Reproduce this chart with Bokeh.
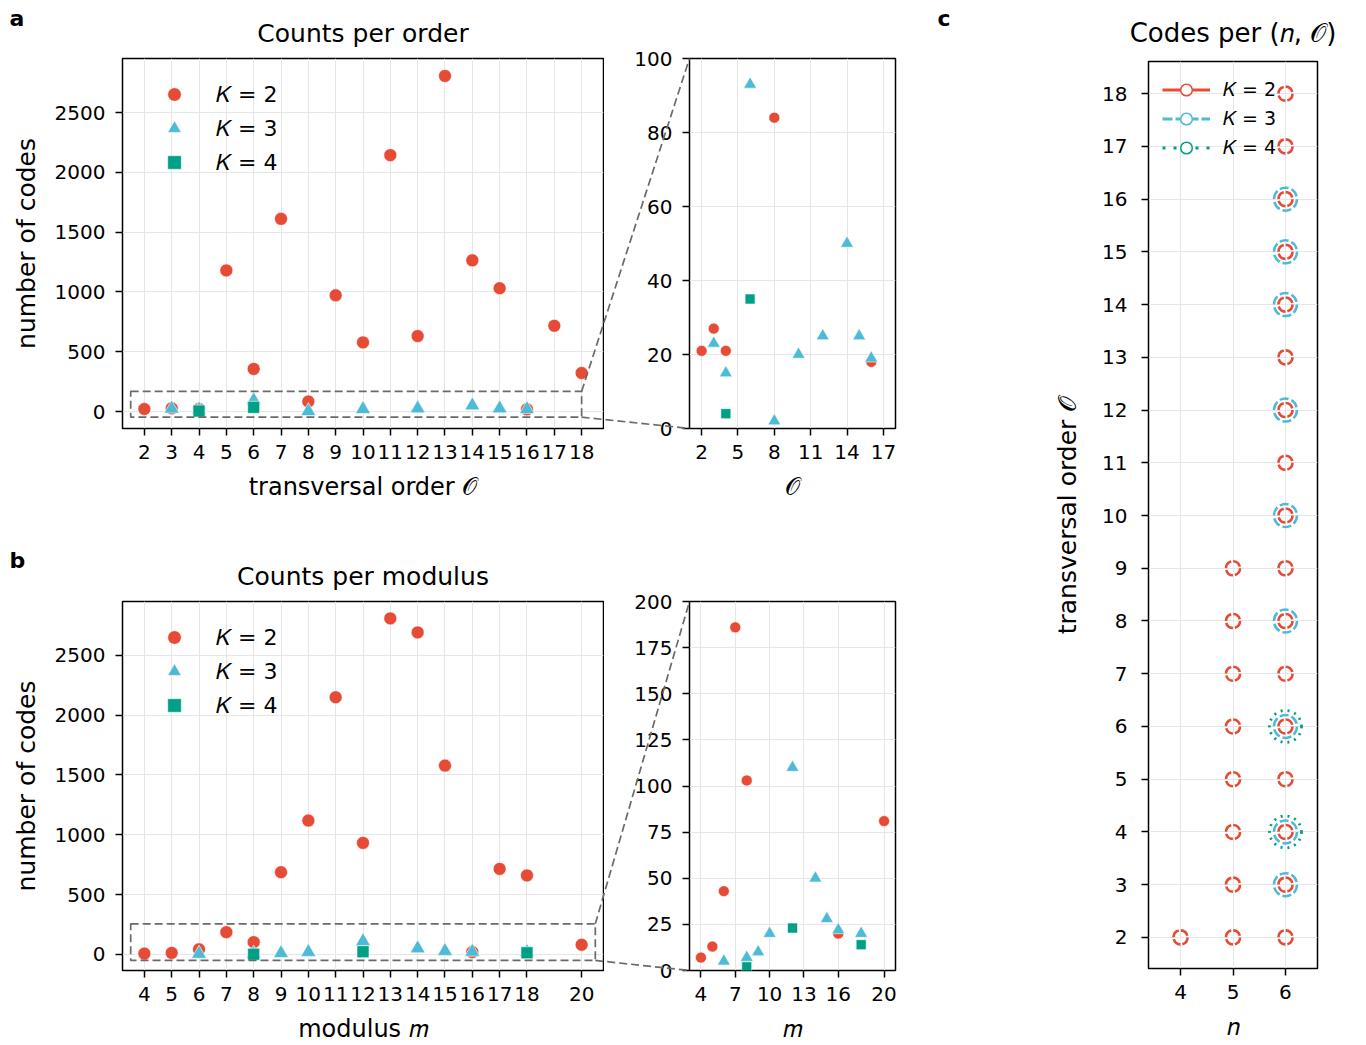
from bokeh.plotting import figure
from bokeh.models import Range1d, FixedTicker, Legend, LegendItem, BoxAnnotation
from bokeh.layouts import row, column
from bokeh.embed import file_html
from bokeh.resources import INLINE
from bokeh.core.properties import value

RED, CYAN, TEAL = "#E64B35", "#4DBBD5", "#00A087"
GRID = "#e6e6e6"
CONN = "#6a6a6a"
FONT = "DejaVu Sans"
NAN = float("nan")

# ---------------- data ----------------
# (a) counts per transversal order
order_k2 = [2, 3, 4, 5, 6, 7, 8, 9, 10, 11, 12, 13, 14, 15, 16, 17, 18]
codes_order_k2 = [21, 27, 21, 1180, 356, 1611, 84, 972, 578, 2144, 631, 2806, 1264, 1031, 18, 717, 322]
order_k3 = [3, 4, 6, 8, 10, 12, 14, 15, 16]
codes_order_k3 = [23, 15, 93, 2, 20, 25, 50, 25, 19]
order_k4 = [4, 6]
codes_order_k4 = [4, 35]

# (b) counts per modulus
modulus_k2 = [4, 5, 6, 7, 8, 9, 10, 11, 12, 13, 14, 15, 16, 17, 18, 20]
codes_mod_k2 = [7, 13, 43, 186, 103, 687, 1119, 2149, 932, 2808, 2691, 1578, 20, 715, 660, 81]
modulus_k3 = [6, 8, 9, 10, 12, 14, 15, 16, 18]
codes_mod_k3 = [5, 7, 10, 20, 110, 50, 28, 22, 20]
modulus_k4 = [8, 12, 18]
codes_mod_k4 = [2, 23, 14]

# (c) codes per (n, O)
n_k2 = [4, 5, 5, 5, 5, 5, 5, 5, 5, 6, 6, 6, 6, 6, 6, 6, 6, 6, 6, 6, 6, 6, 6, 6, 6, 6]
ord_k2 = [2, 2, 3, 4, 5, 6, 7, 8, 9, 2, 3, 4, 5, 6, 7, 8, 9, 10, 11, 12, 13, 14, 15, 16, 17, 18]
n_k3 = [6, 6, 6, 6, 6, 6, 6, 6, 6]
ord_k3 = [3, 4, 6, 8, 10, 12, 14, 15, 16]
n_k4 = [6, 6]
ord_k4 = [4, 6]

legend_labels = ["𝐾 = 2", "𝐾 = 3", "𝐾 = 4"]

order_ticks = [2, 3, 4, 5, 6, 7, 8, 9, 10, 11, 12, 13, 14, 15, 16, 17, 18]
modulus_ticks = [4, 5, 6, 7, 8, 9, 10, 11, 12, 13, 14, 15, 16, 17, 18, 20]
count_ticks = [0, 500, 1000, 1500, 2000, 2500]
inset_order_ticks = [2, 5, 8, 11, 14, 17]
inset_order_yticks = [0, 20, 40, 60, 80, 100]
inset_mod_ticks = [4, 7, 10, 13, 16, 20]
inset_mod_yticks = [0, 25, 50, 75, 100, 125, 150, 175, 200]
n_ticks = [4, 5, 6]
c_order_ticks = [2, 3, 4, 5, 6, 7, 8, 9, 10, 11, 12, 13, 14, 15, 16, 17, 18]

zoom_box_a = (1.5, 18.0, -47, 169)    # left, right, bottom, top
zoom_box_b = (3.5, 20.5, -50, 256)

# ---------------- layout (page pixels) ----------------
FR = {
    "am": dict(L=122, T=58, W=481, H=370, x=(1.2, 18.8), y=(-142, 2952)),
    "ai": dict(L=689, T=58, W=206, H=370, x=(1.0, 18.0), y=(0, 100)),
    "bm": dict(L=122, T=601, W=481, H=369, x=(3.2, 20.8), y=(-134, 2949)),
    "bi": dict(L=689, T=601, W=206, H=369, x=(3.0, 21.0), y=(0, 200)),
    "c": dict(L=1148, T=61, W=169, H=907, x=(3.39, 6.61), y=(1.41, 18.61)),
}
CANVAS = {
    "am": (0, 0, 604, 515),
    "ai": (604, 0, 930, 515),
    "bm": (0, 515, 604, 1044),
    "bi": (604, 515, 930, 1044),
    "c": (930, 0, 1356, 1044),
}


def page_of(k, x, y):
    f = FR[k]
    (x0, x1), (y0, y1) = f["x"], f["y"]
    return (f["L"] + (x - x0) / (x1 - x0) * f["W"],
            f["T"] + f["H"] - (y - y0) / (y1 - y0) * f["H"])


def data_of(k, px, py):
    f = FR[k]
    (x0, x1), (y0, y1) = f["x"], f["y"]
    return (x0 + (px - f["L"]) / f["W"] * (x1 - x0),
            y0 + (f["T"] + f["H"] - py) / f["H"] * (y1 - y0))


def make_fig(k, xticks, yticks, xlabel, ylabel, title=None,
             ylab_standoff=11, ytick_standoff=10):
    f = FR[k]
    cl, ct, cr, cb = CANVAS[k]
    kw = dict(frame_width=f["W"], frame_height=f["H"],
              x_range=Range1d(*f["x"]), y_range=Range1d(*f["y"]),
              min_border_left=f["L"] - cl, min_border_top=f["T"] - ct,
              min_border_right=cr - (f["L"] + f["W"]),
              min_border_bottom=cb - (f["T"] + f["H"]),
              output_backend="svg", toolbar_location=None)
    if title:
        kw["title"] = title
    p = figure(**kw)
    p.background_fill_color = "white"
    p.border_fill_color = "white"
    p.outline_line_color = "black"
    p.outline_line_width = 1.5
    p.outline_line_alpha = 1.0
    if title:
        p.title.text_font = FONT
        p.title.text_font_size = "25px"
        p.title.text_font_style = "normal"
        p.title.text_color = "black"
        p.title.align = "center"
        p.title.standoff = 22
    p.xaxis.ticker = FixedTicker(ticks=xticks)
    p.yaxis.ticker = FixedTicker(ticks=yticks)
    p.xgrid.ticker = FixedTicker(ticks=xticks)
    p.ygrid.ticker = FixedTicker(ticks=yticks)
    for g in (p.xgrid, p.ygrid):
        g.grid_line_color = GRID
        g.grid_line_width = 1
    for ax in list(p.xaxis) + list(p.yaxis):
        ax.axis_line_color = None
        ax.major_tick_line_color = "black"
        ax.major_tick_line_width = 1.5
        ax.major_tick_out = 7
        ax.major_tick_in = 0
        ax.minor_tick_line_color = None
        ax.major_label_text_font = FONT
        ax.major_label_text_font_size = "20px"
        ax.major_label_text_color = "black"
        ax.axis_label_text_font = FONT
        ax.axis_label_text_font_style = "normal"
        ax.axis_label_text_color = "black"
    p.xaxis.major_label_standoff = 9
    p.xaxis.axis_label_standoff = 11
    p.xaxis.axis_label_text_font_size = "24px"
    p.yaxis.major_label_standoff = ytick_standoff
    p.yaxis.axis_label_standoff = ylab_standoff
    p.yaxis.axis_label_text_font_size = "25px"
    p.xaxis.axis_label = xlabel
    if ylabel:
        p.yaxis.axis_label = ylabel
    return p


def scatter_sets(p, sets, sizes):
    rs = []
    for (xs, ys, marker, color), s in zip(sets, sizes):
        rs.append(p.scatter(xs, ys, marker=marker, size=s, fill_color=color,
                            line_color="white", line_width=0.6))
    return rs


def panel_label(p, k, text, px, py):
    x, y = data_of(k, px, py)
    p.text(x=[x], y=[y], text=[text], text_font=value(FONT), text_font_size="22px",
           text_font_style="bold", text_align="left", text_baseline="alphabetic",
           text_color="black", level="overlay")


def zoom_box(p, box):
    l, r, b, t = box
    p.add_layout(BoxAnnotation(left=l, right=r, bottom=b, top=t, fill_alpha=0,
                               line_color=CONN, line_alpha=1.0, line_width=1.7,
                               line_dash="8 4"))


def connectors(mk, ik, pm, pi, box):
    l, r, b, t = box
    fi = FR[ik]
    starts = [(r, t), (r, b)]
    ends = [(fi["x"][0], fi["y"][1]), (fi["x"][0], fi["y"][0])]
    em = [data_of(mk, *page_of(ik, *e)) for e in ends]
    pm.segment(x0=[s[0] for s in starts], y0=[s[1] for s in starts],
               x1=[e[0] for e in em], y1=[e[1] for e in em],
               line_color=CONN, line_width=1.7, line_dash="8 4", level="overlay")
    si = [data_of(ik, *page_of(mk, *s)) for s in starts]
    pi.segment(x0=[s[0] for s in si], y0=[s[1] for s in si],
               x1=[e[0] for e in ends], y1=[e[1] for e in ends],
               line_color=CONN, line_width=1.7, line_dash="8 4", level="overlay")


def main_legend(p, rs):
    items = [LegendItem(label=lab, renderers=[r]) for lab, r in zip(legend_labels, rs)]
    lg = Legend(items=items, location="top_left", background_fill_alpha=0,
                border_line_alpha=0, label_text_font=FONT, label_text_font_size="22px",
                label_text_color="black",
                glyph_width=66, glyph_height=34, label_height=34, label_standoff=9,
                spacing=0, padding=8, margin=11)
    p.add_layout(lg)


# ---------------- panel a ----------------
pam = make_fig("am", order_ticks, count_ticks, "transversal order 𝒪", "number of codes",
               title="Counts per order")
ra = scatter_sets(pam, [(order_k2, codes_order_k2, "circle", RED),
                        (order_k3, codes_order_k3, "triangle", CYAN),
                        (order_k4, codes_order_k4, "square", TEAL)], [13, 15, 12])
main_legend(pam, ra)
zoom_box(pam, zoom_box_a)
panel_label(pam, "am", "a", 9, 18)

pai = make_fig("ai", inset_order_ticks, inset_order_yticks, "𝒪", None)
scatter_sets(pai, [(order_k2, codes_order_k2, "circle", RED),
                   (order_k3, codes_order_k3, "triangle", CYAN),
                   (order_k4, codes_order_k4, "square", TEAL)], [11, 13, 10])
connectors("am", "ai", pam, pai, zoom_box_a)

# ---------------- panel b ----------------
pbm = make_fig("bm", modulus_ticks, count_ticks, "modulus 𝑚", "number of codes",
               title="Counts per modulus")
rb = scatter_sets(pbm, [(modulus_k2, codes_mod_k2, "circle", RED),
                        (modulus_k3, codes_mod_k3, "triangle", CYAN),
                        (modulus_k4, codes_mod_k4, "square", TEAL)], [13, 15, 12])
main_legend(pbm, rb)
zoom_box(pbm, zoom_box_b)
panel_label(pbm, "bm", "b", 9, 560)

pbi = make_fig("bi", inset_mod_ticks, inset_mod_yticks, "𝑚", None)
scatter_sets(pbi, [(modulus_k2, codes_mod_k2, "circle", RED),
                   (modulus_k3, codes_mod_k3, "triangle", CYAN),
                   (modulus_k4, codes_mod_k4, "square", TEAL)], [11, 13, 10])
connectors("bm", "bi", pbm, pbi, zoom_box_b)

# ---------------- panel c ----------------
pc = make_fig("c", n_ticks, c_order_ticks, "𝑛", "transversal order 𝒪",
              title="Codes per (𝑛, 𝒪)", ylab_standoff=17, ytick_standoff=14)
pc.title.standoff = 28
pc.title.text_font_size = "26px"
pc.scatter(n_k4, ord_k4, marker="circle", size=32, fill_alpha=0, line_color=TEAL,
           line_width=2.8, line_dash="2 5")
pc.scatter(n_k3, ord_k3, marker="circle", size=23, fill_alpha=0, line_color=CYAN,
           line_width=2.5, line_dash="9 3")
pc.scatter(n_k2, ord_k2, marker="circle", size=14, fill_alpha=0, line_color=RED,
           line_width=2.6, line_dash="9 2")
items = []
for lab, col, dash in zip(legend_labels, [RED, CYAN, TEAL], ["solid", "10 3", "3 8"]):
    lr = pc.line([NAN], [NAN], line_color=col, line_width=3.2, line_dash=dash)
    mr = pc.scatter([NAN], [NAN], marker="circle", size=13, fill_color="white",
                    line_color=col, line_width=1.5)
    items.append(LegendItem(label=lab, renderers=[lr, mr]))
lgc = Legend(items=items, location="top_left", background_fill_alpha=0, border_line_alpha=0,
             label_text_font=FONT, label_text_font_size="19px",
             label_text_color="black",
             glyph_width=48, glyph_height=29, label_height=29, label_standoff=13,
             spacing=0, padding=8, margin=6)
pc.add_layout(lgc)
panel_label(pc, "c", "c", 937, 18)

layout = row(column(row(pam, pai), row(pbm, pbi)), pc)
open("out.html", "w").write(file_html(layout, INLINE))
